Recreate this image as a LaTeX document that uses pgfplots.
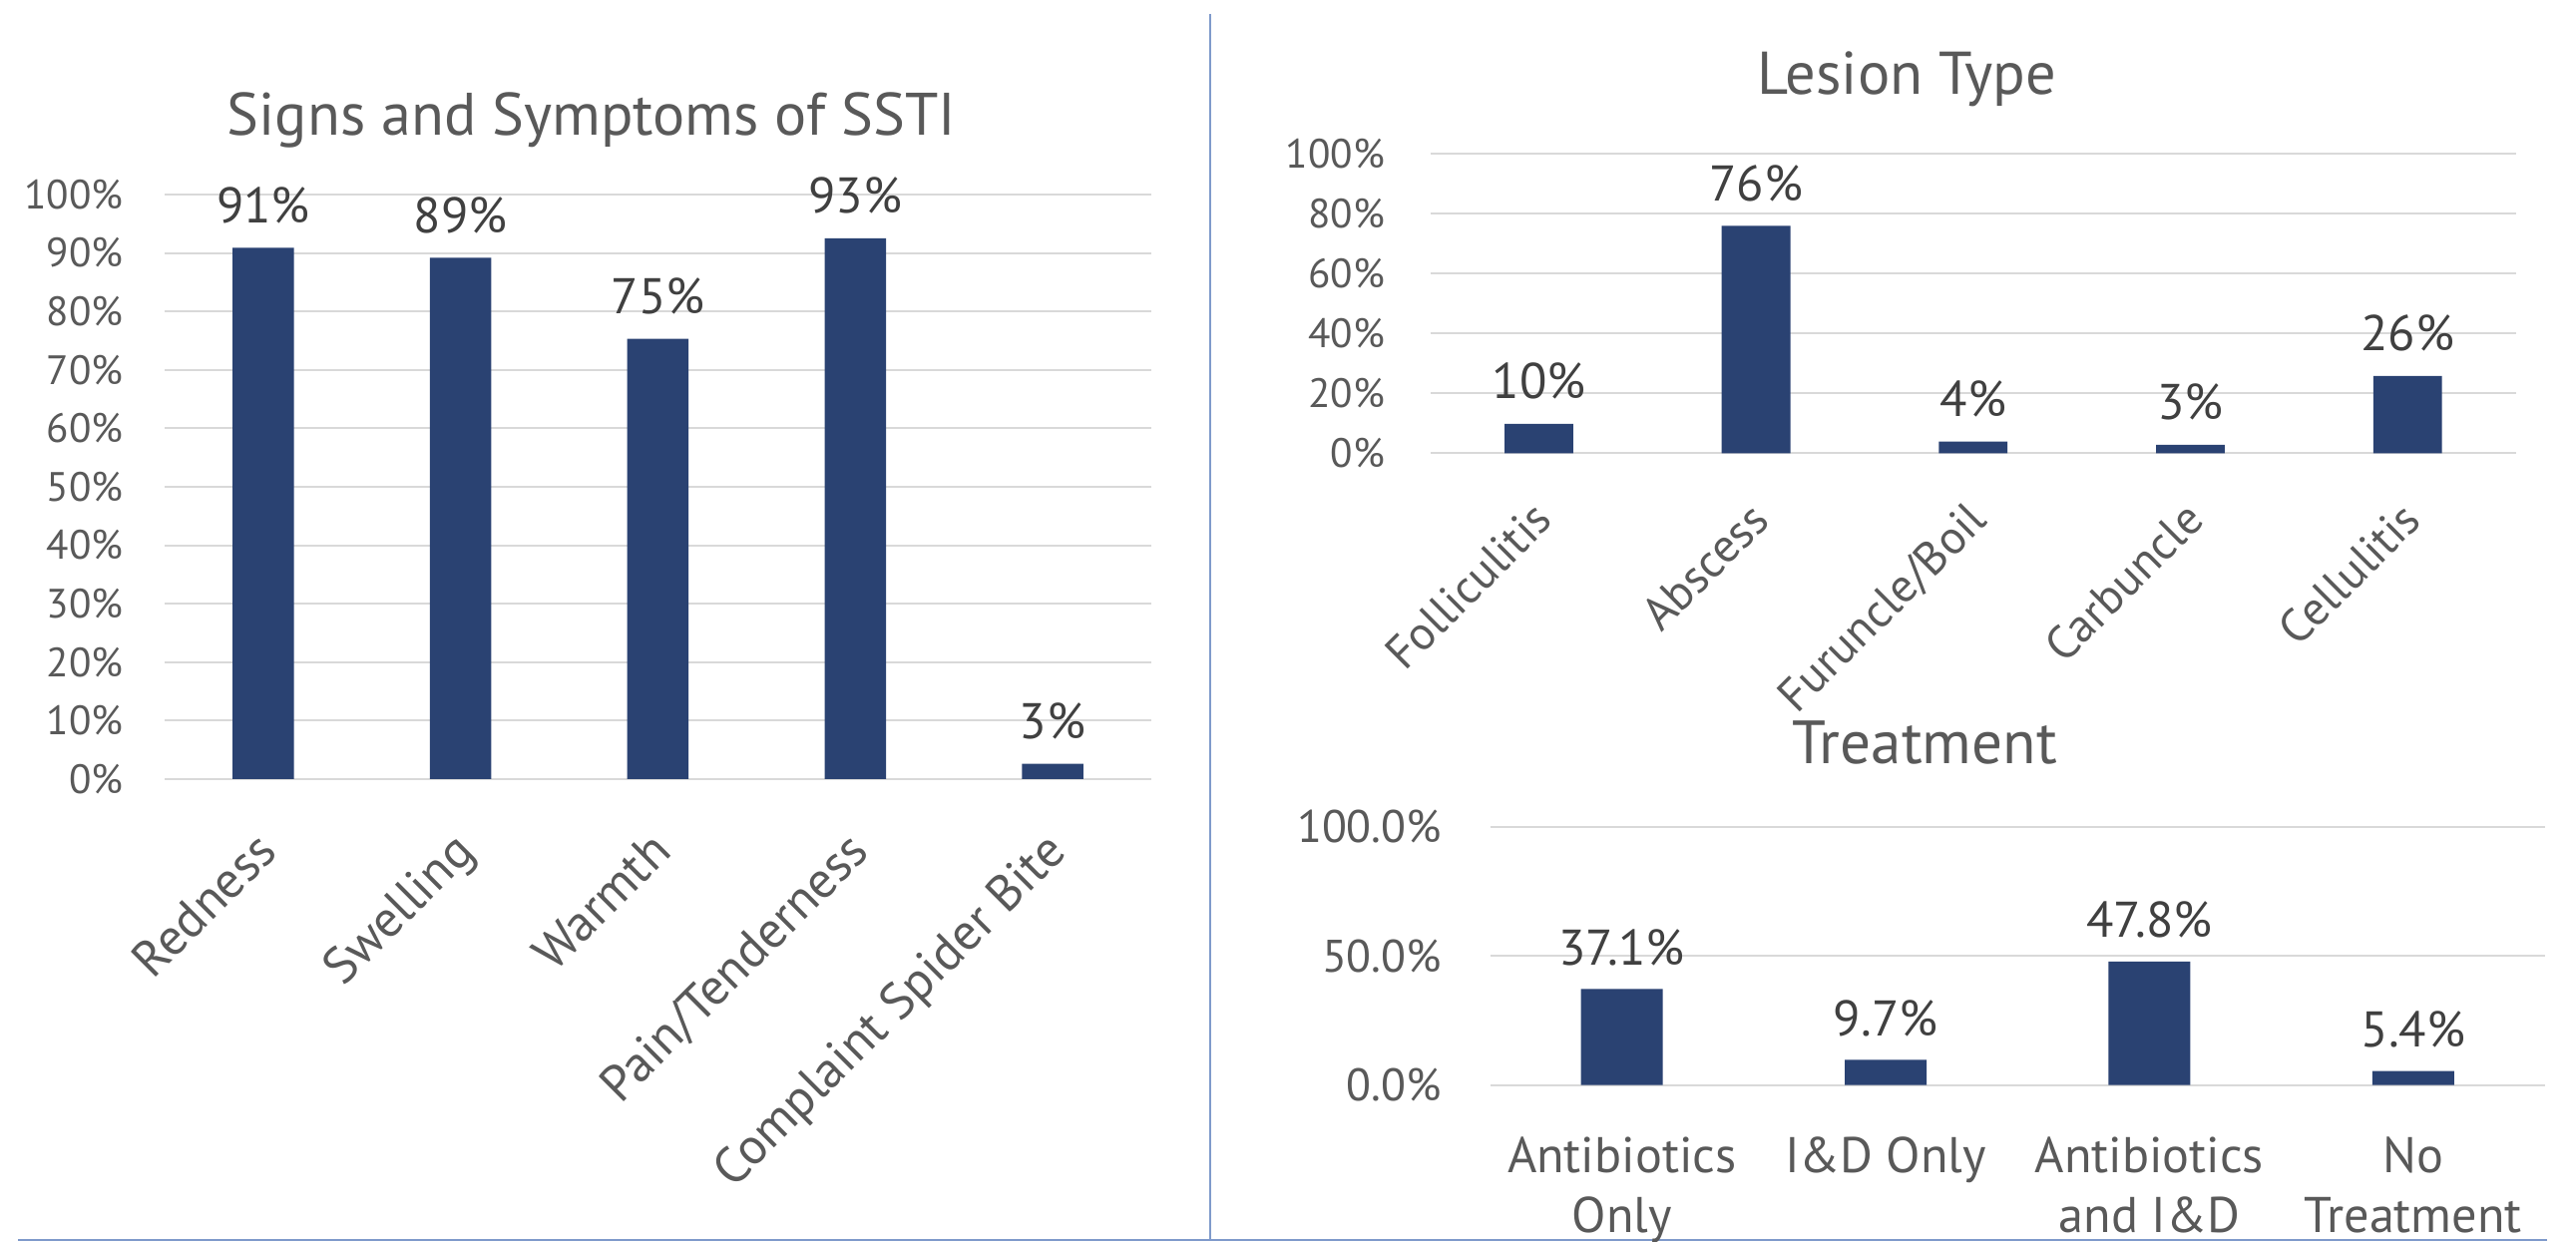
\documentclass[border=0pt]{standalone}
\usepackage{pgfplots}
\usepackage{pgfplotstable}
\pgfplotsset{compat=1.18}
\usepackage{fontspec}
\setmainfont{PT Sans}
\definecolor{barcol}{RGB}{42,66,114}
\definecolor{gridcol}{HTML}{D9D9D9}
\definecolor{tickcol}{HTML}{595959}
\definecolor{labcol}{HTML}{404040}
\definecolor{divcol}{HTML}{7F9ACB}

\pgfplotstableread{
x y lab
0 90.9 91
1 89.2 89
2 75.3 75
3 92.5 93
4 2.6 3
}\signs
\pgfplotstableread{
x y lab
0 9.8 10
1 75.9 76
2 3.9 4
3 2.8 3
4 25.8 26
}\lesion
\pgfplotstableread{
x y lab
0 37.1 37.1
1 9.7 9.7
2 47.8 47.8
3 5.4 5.4
}\treat

\pgfplotsset{
  mybase/.style={
    scale only axis, anchor=south west, clip=false,
    axis line style={draw=none},
    major tick length=0pt,
    ymajorgrids, grid style={gridcol, line width=0.2mm},
    ymin=0, ymax=100,
    ticklabel style={color=tickcol, inner sep=0pt},
  }
}

\begin{document}
\begin{tikzpicture}
\fill[white] (0,0) rectangle (258.2mm,124.5mm);
\path[use as bounding box] (0,0) rectangle (258.2mm,124.5mm);
\draw[divcol, line width=0.2mm] (121.27mm,123.1mm) -- (121.27mm,0.15mm);
\draw[divcol, line width=0.2mm] (1.8mm,0.15mm) -- (255.3mm,0.15mm);

% Titles
\node[anchor=base, color=tickcol, font=\fontsize{17.1pt}{20pt}\selectfont, inner sep=0pt] at (59.3mm,110.94mm) {Signs and Symptoms of SSTI};
\node[anchor=base, color=tickcol, font=\fontsize{17.2pt}{20pt}\selectfont, inner sep=0pt] at (191.15mm,115.04mm) {Lesion Type};
\node[anchor=base, color=tickcol, font=\fontsize{17.4pt}{20pt}\selectfont, inner sep=0pt] at (192.9mm,47.9mm) {Treatment};

% Left chart
\begin{axis}[mybase,
  at={(16.5mm,46.4mm)}, width=98.9mm, height=58.6mm,
  xmin=-0.5, xmax=4.5,
  xtick={0,1,2,3,4},
  xticklabels={Redness,Swelling,Warmth,Pain/Tenderness,Complaint Spider Bite},
  ytick={0,10,...,100},
  yticklabels={0\%,10\%,20\%,30\%,40\%,50\%,60\%,70\%,80\%,90\%,100\%},
  yticklabel style={font=\fontsize{11.7pt}{14pt}\selectfont, anchor=east},
  yticklabel shift=4.1mm,
  xticklabel style={font=\fontsize{14.5pt}{17pt}\selectfont, xshift=-1.0mm, rotate=45, anchor=north east},
  xticklabel shift=4.9mm,
]
\addplot[ybar, bar width=6.15mm, fill=barcol, draw=none,
  point meta=explicit symbolic,
  nodes near coords={\pgfplotspointmeta\%},
  every node near coord/.append style={font=\fontsize{14.3pt}{16pt}\selectfont, color=labcol, anchor=base, yshift=2.5mm, inner sep=0pt},
] table[x=x,y=y,meta=lab]{\signs};
\end{axis}

% Lesion chart
\begin{axis}[mybase,
  at={(143.36mm,79.06mm)}, width=108.84mm, height=30.04mm,
  xmin=-0.5, xmax=4.5,
  xtick={0,1,2,3,4},
  xticklabels={Folliculitis,Abscess,Furuncle/Boil,Carbuncle,Cellulitis},
  ytick={0,20,...,100},
  yticklabels={0\%,20\%,40\%,60\%,80\%,100\%},
  yticklabel style={font=\fontsize{11.7pt}{14pt}\selectfont, anchor=east},
  yticklabel shift=4.5mm,
  xticklabel style={font=\fontsize{13.4pt}{16pt}\selectfont, xshift=-0.8mm, rotate=45, anchor=north east},
  xticklabel shift=4.5mm,
]
\addplot[ybar, bar width=6.88mm, fill=barcol, draw=none,
  point meta=explicit symbolic,
  nodes near coords={\pgfplotspointmeta\%},
  every node near coord/.append style={font=\fontsize{14.3pt}{16pt}\selectfont, color=labcol, anchor=base, yshift=2.5mm, inner sep=0pt},
] table[x=x,y=y,meta=lab]{\lesion};
\end{axis}

% Treatment chart
\begin{axis}[mybase,
  at={(149.35mm,15.74mm)}, width=105.75mm, height=25.9mm,
  xmin=-0.5, xmax=3.5,
  xtick={0,1,2,3},
  xticklabels={{Antibiotics\\Only},{I\&D Only},{Antibiotics\\and I\&D},{No\\Treatment}},
  ytick={0,50,100},
  yticklabels={0.0\%,50.0\%,100.0\%},
  yticklabel style={font=\fontsize{13pt}{15pt}\selectfont, anchor=east},
  yticklabel shift=4.8mm,
  xticklabel style={font=\fontsize{14.3pt}{17.3pt}\selectfont, anchor=north, align=center},
  xticklabel shift=5.1mm,
]
\addplot[ybar, bar width=8.2mm, fill=barcol, draw=none,
  point meta=explicit symbolic,
  nodes near coords={\pgfplotspointmeta\%},
  every node near coord/.append style={font=\fontsize{14.3pt}{16pt}\selectfont, color=labcol, anchor=base, yshift=2.4mm, inner sep=0pt},
] table[x=x,y=y,meta=lab]{\treat};
\end{axis}
\end{tikzpicture}
\end{document}
